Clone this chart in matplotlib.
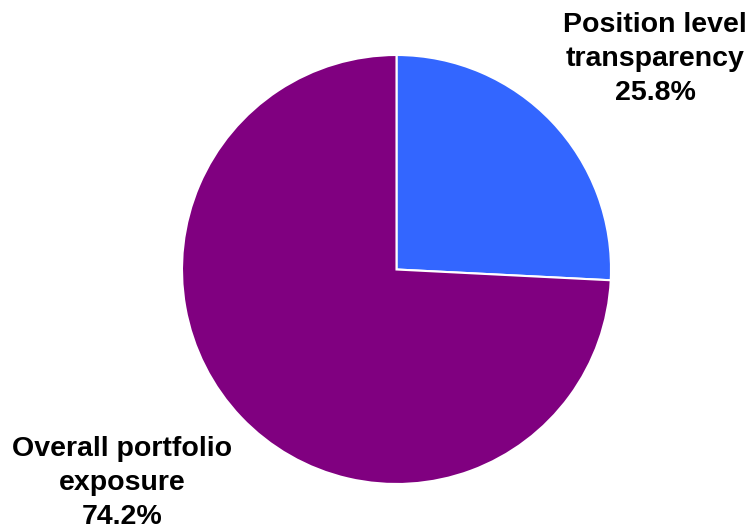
import matplotlib.pyplot as plt

labels = ["Position level\ntransparency", "Overall portfolio\nexposure"]
shares = [25.8, 74.2]
colors = ["#3366FF", "#800080"]

W, H = 747, 531
fig = plt.figure(figsize=(W / 100, H / 100), dpi=100)
plt.rcParams['font.family'] = ['Liberation Sans', 'DejaVu Sans']

# pie centre and radius in pixels
cx, cy, r = 396.5, 269.5, 214.5
ax = fig.add_axes([(cx - r) / W, (H - cy - r) / H, 2 * r / W, 2 * r / H])
ax.pie(shares, colors=colors, startangle=90, counterclock=False,
       wedgeprops=dict(edgecolor="white", linewidth=1.5))
ax.set_xlim(-1, 1)
ax.set_ylim(-1, 1)
ax.set_aspect("equal")

label_pos = [(655, 59), (122, 483)]
for lab, val, (px, py) in zip(labels, shares, label_pos):
    fig.text(px / W, 1 - py / H, f"{lab}\n{val:.1f}%", ha="center", va="center",
             fontsize=20.5, fontweight="bold", linespacing=1.42)

fig.savefig("out.png", dpi=100)
